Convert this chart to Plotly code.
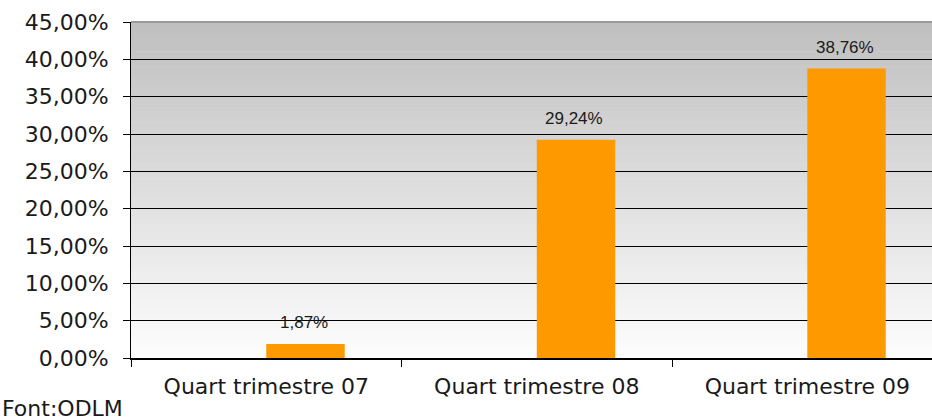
"""Quart trimestre: columnes amb fons degradat (estil Excel)."""

import plotly.graph_objects as go

categories = ["Quart trimestre 07", "Quart trimestre 08", "Quart trimestre 09"]
values = [0.0187, 0.2924, 0.3876]
y_ticks = [0.0, 0.05, 0.10, 0.15, 0.20, 0.25, 0.30, 0.35, 0.40, 0.45]
source_note = "Font:ODLM"

BAR = "#FF9900"
TXT = "#1a1a1a"

fig = go.Figure()
fig.add_trace(go.Bar(
    x=categories, y=values, marker_color=BAR, marker_line_width=0,
    width=0.29, offset=0, hoverinfo="skip",
))

# fons degradat: franges horitzontals, gris a dalt i blanc a baix
steps = 90
for i in range(steps):
    f = i / steps
    g = int(round(253 - (253 - 191) * (f + 0.5 / steps)))
    fig.add_shape(type="rect", xref="x domain", yref="y domain",
                  x0=0, x1=1, y0=f, y1=f + 1 / steps + 0.002,
                  fillcolor=f"rgb({g},{g},{g})", line_width=0, layer="below")

# vora superior grisa
fig.add_shape(type="line", xref="x domain", yref="y domain", x0=0, x1=1, y0=1, y1=1,
              line=dict(color="#9a9a9a", width=2), layer="above")

# etiquetes de dades
for c, v in zip(categories, values):
    fig.add_annotation(x=c, y=v, text=f"{v * 100:.2f}%".replace(".", ","),
                       showarrow=False, yanchor="bottom", xanchor="center",
                       xshift=0.145 * 271 - 2, yshift=10,
                       font=dict(family="Liberation Sans", size=17, color=TXT))

fig.add_annotation(xref="paper", yref="paper", x=-131 / 802, y=-51 / 336,
                   xanchor="left", yanchor="middle", text=source_note, showarrow=False,
                   font=dict(family="DejaVu Sans", size=22, color=TXT))

fig.update_layout(
    width=932, height=420,
    margin=dict(l=131, r=0, t=22, b=62),
    paper_bgcolor="white", plot_bgcolor="white",
    separators=",.",
    showlegend=False,
    font=dict(family="DejaVu Sans", size=22, color=TXT),
)
fig.update_xaxes(
    type="category", range=[-0.5, 2.461],
    showline=True, linecolor="#000", linewidth=1.5,
    ticks="outside", tickson="boundaries", ticklen=7, tickcolor="#000",
    ticklabelstandoff=8, showgrid=False,
    tickfont=dict(family="DejaVu Sans", size=22, color=TXT),
)
fig.update_yaxes(
    range=[0, 0.45], tickvals=y_ticks, tickformat=".2%",
    showline=True, linecolor="#000", linewidth=1,
    ticks="outside", ticklen=7, tickcolor="#000", ticklabelstandoff=10,
    showgrid=True, gridcolor="#000", gridwidth=1, zeroline=False,
    tickfont=dict(family="DejaVu Sans", size=22, color=TXT),
)

fig.write_html("out.html", config={"displayModeBar": False},
               post_script="document.body.style.margin='0';")
